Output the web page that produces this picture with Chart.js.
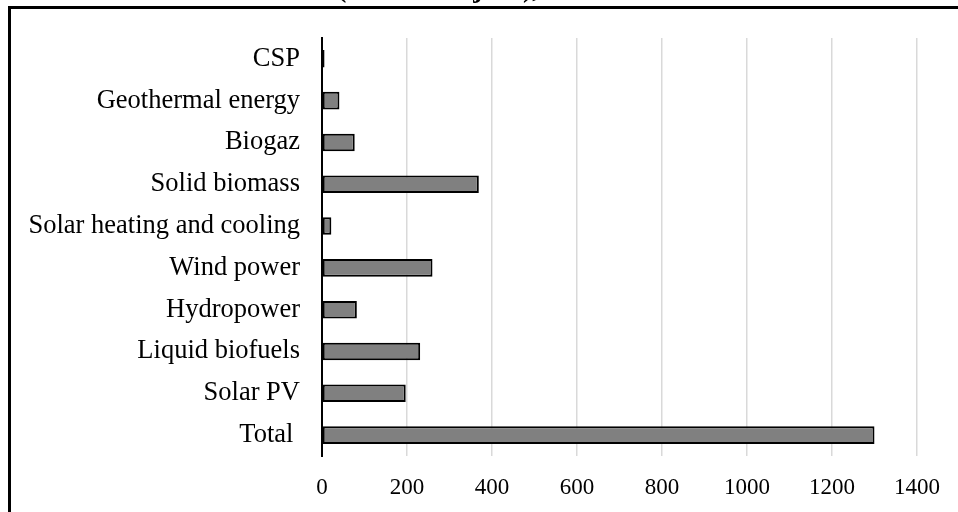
<!DOCTYPE html>
<html>
<head>
<meta charset="utf-8">
<script src="https://cdn.jsdelivr.net/npm/chart.js@4/dist/chart.umd.min.js"></script>
<style>
  html, body { margin: 0; padding: 0; background: #fff; overflow: hidden; }
  #wrap { position: relative; width: 958px; height: 512px; }
  #frame {
    position: absolute; left: 8px; top: 6px; width: 1000px; height: 600px;
    border: 3px solid #000; pointer-events: none;
  }
  #title {
    position: absolute; left: 337px; top: -26px; white-space: nowrap;
    font: bold 28px "Liberation Serif", "Times New Roman", serif; line-height: 1;
  }
</style>
</head>
<body>
<div id="wrap">
  <canvas id="chart" width="958" height="512"></canvas>
  <div id="frame"></div>
  <div id="title">(Thousand jobs), 2016</div>
</div>
<script>
const categories = ['CSP', 'Geothermal energy', 'Biogaz', 'Solid biomass', 'Solar heating and cooling',
    'Wind power', 'Hydropower', 'Liquid biofuels', 'Solar PV', 'Total '];
const jobs = [6, 41, 77, 369, 22, 260, 82, 231, 197, 1300];
const xTicks = [0, 200, 400, 600, 800, 1000, 1200, 1400];

const serif = '"Liberation Serif", "Times New Roman", serif';

const ctx = document.getElementById('chart').getContext('2d');
new Chart(ctx, {
    type: 'bar',
    data: {
        labels: categories,
        datasets: [{
            data: jobs,
            backgroundColor: '#808080',
            borderColor: '#000000',
            borderWidth: 2,
            borderSkipped: false,
            barPercentage: 0.42,
            categoryPercentage: 1
        }]
    },
    options: {
        indexAxis: 'y',
        responsive: false,
        animation: false,
        layout: { padding: { top: 34, right: 41, left: 0, bottom: 0 } },
        plugins: { legend: { display: false }, tooltip: { enabled: false } },
        scales: {
            x: {
                min: 0,
                max: 1400,
                afterBuildTicks: (scale) => { scale.ticks = xTicks.map(v => ({ value: v })); },
                afterFit: (scale) => { scale.height = 56; },
                grid: { color: '#d9d9d9', lineWidth: 1.5, drawTicks: false },
                border: { display: false },
                ticks: {
                    color: '#000', padding: 18,
                    font: { family: serif, size: 23 },
                    callback: (v) => String(v)
                }
            },
            y: {
                afterFit: (scale) => { scale.width = 322; },
                grid: { display: false, drawTicks: false },
                border: { display: true, color: '#000', width: 2 },
                ticks: { color: '#000', padding: 22, font: { family: serif, size: 26.5 } }
            }
        }
    }
});
</script>
</body>
</html>
